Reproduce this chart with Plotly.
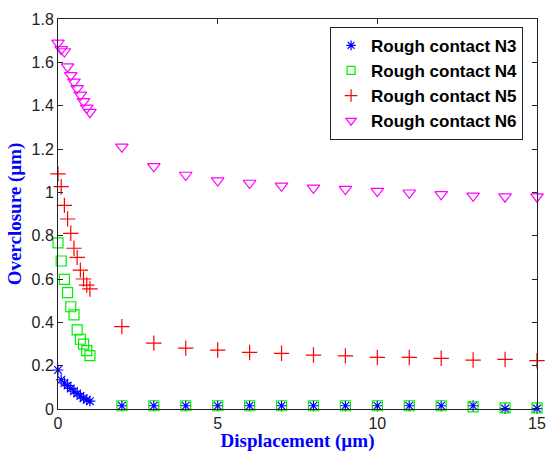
import plotly.graph_objects as go

# Displacement steps (µm): fine steps up to 1, then unit steps to 15
x_fine = [0.0, 0.1, 0.2, 0.3, 0.4, 0.5, 0.6, 0.7, 0.8, 0.9, 1.0]
x_coarse = [2, 3, 4, 5, 6, 7, 8, 9, 10, 11, 12, 13, 14, 15]

n3_fine = [0.18, 0.135, 0.12, 0.108, 0.095, 0.082, 0.072, 0.06, 0.05, 0.042, 0.036]
n3_coarse = [0.015, 0.015, 0.015, 0.015, 0.015, 0.015, 0.015, 0.015, 0.015, 0.015, 0.015, 0.015, 0.002, 0.002]

n4_fine = [0.767, 0.683, 0.598, 0.537, 0.472, 0.434, 0.365, 0.322, 0.299, 0.269, 0.246]
n4_coarse = [0.015, 0.015, 0.015, 0.015, 0.015, 0.015, 0.015, 0.015, 0.015, 0.015, 0.015, 0.01, 0.005, 0.005]

n5_fine = [1.085, 1.026, 0.94, 0.877, 0.811, 0.742, 0.70, 0.641, 0.60, 0.572, 0.554]
n5_coarse = [0.38, 0.304, 0.281, 0.272, 0.261, 0.257, 0.249, 0.245, 0.238, 0.238, 0.234, 0.226, 0.229, 0.223]

n6_fine = [1.69, 1.66, 1.65, 1.58, 1.54, 1.51, 1.48, 1.45, 1.42, 1.39, 1.37]
n6_coarse = [1.21, 1.12, 1.08, 1.054, 1.043, 1.03, 1.021, 1.015, 1.006, 0.998, 0.991, 0.984, 0.98, 0.98]

series = [
    ("Rough contact N3", n3_fine + n3_coarse, "asterisk-open", "#0000ff", 9, 8),
    ("Rough contact N4", n4_fine + n4_coarse, "square-open", "#00ee00", 10, 8),
    ("Rough contact N5", n5_fine + n5_coarse, "cross-thin-open", "#ff0000", 11, 9),
    ("Rough contact N6", n6_fine + n6_coarse, "triangle-down-open", "#ff00ff", 11, 9),
]

x_all = x_fine + x_coarse

fig = go.Figure()
for name, ys, sym, col, size, legend_size in series:
    fig.add_trace(go.Scatter(
        x=x_all, y=ys, mode="markers", name=name, cliponaxis=False,
        showlegend=False, legendgroup=name,
        marker=dict(symbol=sym, size=size, color=col,
                    line=dict(color=col, width=1.2)),
    ))
    # legend entry with a smaller symbol
    fig.add_trace(go.Scatter(
        x=[None], y=[None], mode="markers", name="<b>" + name + "</b>",
        legendgroup=name,
        marker=dict(symbol=sym, size=legend_size, color=col,
                    line=dict(color=col, width=1.2)),
    ))

axis_common = dict(
    showgrid=False, zeroline=False, showline=True, linecolor="#222",
    linewidth=1, mirror="ticks", ticks="inside", ticklen=5, tickcolor="#222",
    automargin=False,
    tickfont=dict(family="Liberation Sans, Arial", size=16, color="#222"),
)

fig.update_layout(
    width=547, height=452,
    margin=dict(l=58, r=10, t=19, b=43),
    paper_bgcolor="white", plot_bgcolor="white",
    showlegend=True,
    legend=dict(
        x=0.568, y=0.98, xanchor="left", yanchor="top",
        bordercolor="#222", borderwidth=1, bgcolor="white",
        font=dict(family="Liberation Sans, Arial", size=17, color="black"),
        tracegroupgap=0,
    ),
    xaxis=dict(
        range=[0, 15], tickvals=[0, 5, 10, 15],
        title=dict(text="<b>Displacement (µm)</b>", standoff=4,
                   font=dict(family="Liberation Serif, Times New Roman", size=19, color="#0000ff")),
        **axis_common,
    ),
    yaxis=dict(
        range=[0, 1.8], tickvals=[0, 0.2, 0.4, 0.6, 0.8, 1.0, 1.2, 1.4, 1.6, 1.8],
        ticktext=["0", "0.2", "0.4", "0.6", "0.8", "1", "1.2", "1.4", "1.6", "1.8"],
        title=dict(text="<b>Overclosure (µm)</b>", standoff=4,
                   font=dict(family="Liberation Serif, Times New Roman", size=19, color="#0000ff")),
        **axis_common,
    ),
)

fig.write_html("out.html")
